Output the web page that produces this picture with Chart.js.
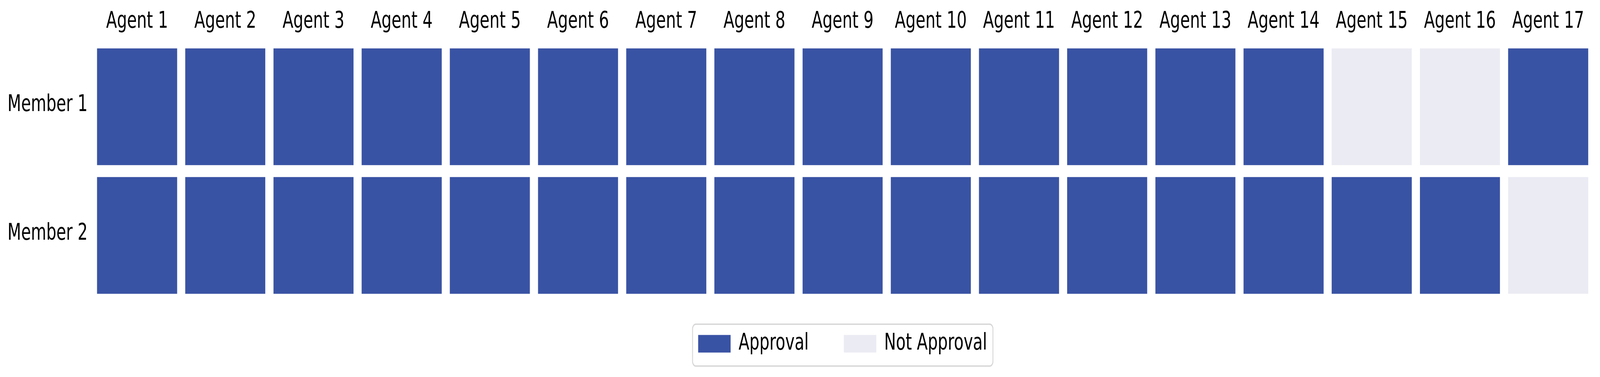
<!DOCTYPE html>
<html>
<head>
<meta charset="utf-8">
<script src="https://cdn.jsdelivr.net/npm/chart.js@4.4.1/dist/chart.umd.min.js"></script>
<style>
  html, body { margin: 0; padding: 0; background: #ffffff; overflow: hidden; }
  /* the chart is drawn at 5970x964 and shown over the whole window */
  #approvalChart { display: block; width: 100vw !important; height: 100vh !important; }
</style>
</head>
<body>
<canvas id="approvalChart" width="5970" height="964"></canvas>
<script>
const agents = ['Agent 1', 'Agent 2', 'Agent 3', 'Agent 4', 'Agent 5', 'Agent 6', 'Agent 7', 'Agent 8', 'Agent 9',
    'Agent 10', 'Agent 11', 'Agent 12', 'Agent 13', 'Agent 14', 'Agent 15', 'Agent 16', 'Agent 17'];
const members = ['Member 1', 'Member 2'];

// 1 = approval, 0 = not approval
const member1Approval = [1, 1, 1, 1, 1, 1, 1, 1, 1, 1, 1, 1, 1, 1, 0, 0, 1];
const member2Approval = [1, 1, 1, 1, 1, 1, 1, 1, 1, 1, 1, 1, 1, 1, 1, 1, 0];
const approvals = [member1Approval, member2Approval];

const legendLabels = ['Approval', 'Not Approval'];
const approvalColor = '#3953a4';
const notApprovalColor = '#ebebf4';
const labelFont = { family: 'DejaVu Sans', size: 59 };

// moves the legend up and draws the rounded frame round it
const legendFrame = {
    id: 'legendFrame',
    afterLayout: function (chart) {
        const lg = chart.legend;
        lg.top -= 48;
        lg.bottom -= 48;
    },
    afterDraw: function (chart) {
        const boxes = chart.legend.legendHitBoxes;
        if (!boxes || !boxes.length) return;
        const first = boxes[0];
        const last = boxes[boxes.length - 1];
        const x0 = first.left - 21;
        const x1 = last.left + last.width + 22;
        const y0 = first.top - 20.5;
        const y1 = first.top + first.height + 27.5;
        const ctx = chart.ctx;
        ctx.save();
        ctx.strokeStyle = '#d6d6d6';
        ctx.lineWidth = 3.3;
        ctx.beginPath();
        ctx.roundRect(x0, y0, x1 - x0, y1 - y0, 12);
        ctx.stroke();
        ctx.restore();
    }
};

const ctx = document.getElementById('approvalChart').getContext('2d');

new Chart(ctx, {
    type: 'bar',
    data: {
        labels: agents,
        datasets: members.map(function (member, i) {
            return {
                label: member,
                data: agents.map(function () { return [i, i + 1]; }),
                backgroundColor: approvals[i].map(function (v) { return v ? approvalColor : notApprovalColor; }),
                borderColor: '#ffffff',
                borderWidth: 15.5,
                borderSkipped: false,
                barPercentage: 1,
                categoryPercentage: 1,
                grouped: false
            };
        })
    },
    options: {
        responsive: false,
        devicePixelRatio: 1,
        animation: false,
        layout: {
            padding: { left: 0, right: 29, top: 0, bottom: 0 }
        },
        plugins: {
            tooltip: { enabled: false },
            legend: {
                position: 'bottom',
                fullSize: false,
                maxHeight: 197.5,
                onClick: null,
                labels: {
                    font: labelFont,
                    color: '#000000',
                    boxWidth: 121,
                    boxHeight: 45,
                    padding: 131,
                    generateLabels: function () {
                        return legendLabels.map(function (text, k) {
                            return {
                                text: text,
                                fillStyle: k === 0 ? approvalColor : notApprovalColor,
                                strokeStyle: 'rgba(0,0,0,0)',
                                lineWidth: 0,
                                fontColor: '#000000',
                                hidden: false,
                                datasetIndex: k
                            };
                        });
                    }
                }
            }
        },
        scales: {
            x: {
                type: 'category',
                position: 'top',
                grid: { display: false, drawTicks: false },
                border: { display: false },
                ticks: {
                    font: labelFont,
                    color: '#000000',
                    padding: 17.5,
                    maxRotation: 0,
                    autoSkip: false
                },
                afterFit: function (scale) { scale.height = 108.5; }
            },
            y: {
                type: 'linear',
                min: 0,
                max: 2,
                reverse: true,
                grid: { display: false, drawTicks: false },
                border: { display: false },
                afterBuildTicks: function (scale) {
                    scale.ticks = members.map(function (m, i) { return { value: i + 0.5 }; });
                },
                ticks: {
                    font: labelFont,
                    color: '#000000',
                    padding: 20,
                    labelOffset: -4,
                    callback: function (value, index) { return members[index]; }
                },
                afterFit: function (scale) { scale.width = 347; }
            }
        }
    },
    plugins: [legendFrame]
});
</script>
</body>
</html>
